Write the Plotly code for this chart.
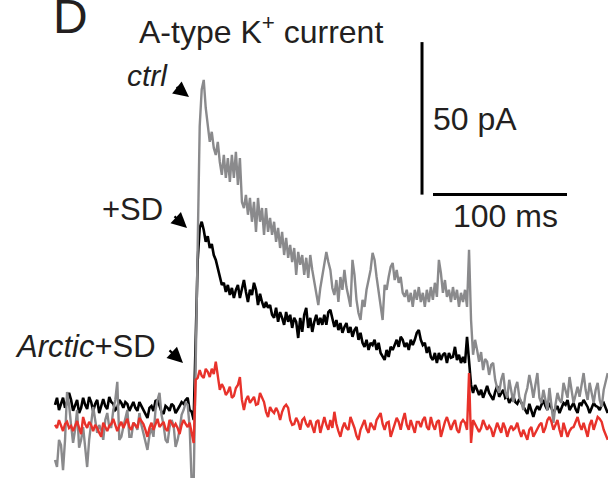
import plotly.graph_objects as go

# ---------------- data ----------------
SAMPLE_MS = 1.5
ctrl_pA = [
    -11.5, -13.8, -4.9, -6.6, -14.8, -4.9, 10.8, 6.6, 0, -5.9,
    -1.6, 4.9, -7.5, -4.9, -0.7, -6.6, -13.8, -4.9, 0, 5.9,
    1.6, -2.6, 0, -1.6, -4.9, 1.6, 3.9, -0.7, -0.7, 4.9,
    8.2, 14.1, -4.9, -3.9, -0.7, 2.3, 4.9, -3.9, -3.9, 0.7,
    0, -1.6, 3.9, 0, -2.6, -4.9, -8.2, -3.3, -1.0, -3.9,
    4.9, 8.2, 10.5, 3.3, 0, -4.9, -5.9, -0.7, 1.6, 0,
    -7.2, -4.9, -1.6, 3.3, 4.9, 7.2, 6.6, -0.7, -19, -19,
    20, 70, 98, 110, 113.1, 103.9, 98.4, 92.8, 96.1, 90.8,
    88.5, 92.8, 86.2, 82.0, 88.5, 81.0, 87.5, 79.7, 88.5, 81.0,
    89.5, 78.7, 87.5, 73.1, 71.1, 75.4, 68.9, 74.4, 66.6, 73.1,
    63.3, 74.4, 66.6, 71.1, 62.3, 71.1, 63.3, 67.9, 62.3, 66.6,
    60.0, 64.6, 58.0, 63.3, 55.7, 61.3, 54.8, 59.0, 53.4, 58.0,
    49.2, 56.7, 52.5, 55.7, 49.2, 54.8, 48.2, 55.7, 50.8, 46.9,
    43.6, 39.3, 44.9, 49.2, 53.4, 56.7, 53.4, 50.8, 44.9, 42.6,
    47.5, 40.3, 48.5, 44.3, 50.8, 45.2, 42.0, 38.7, 54.1, 49.2,
    41.0, 36.7, 34.4, 41.0, 38.7, 44.3, 47.5, 50.8, 56.4, 54.1,
    48.5, 43.3, 38.7, 34.4, 45.9, 44.3, 48.5, 51.8, 53.1, 47.5,
    50.8, 46.6, 48.5, 43.3, 42.0, 44.3, 40.3, 43.3, 38.7, 44.3,
    41.0, 45.2, 40.3, 43.3, 38.7, 44.3, 40.3, 45.2, 41.0, 46.6,
    42.0, 54.1, 49.8, 43.3, 47.5, 42.0, 44.3, 40.3, 45.2, 41.0,
    44.3, 38.7, 43.3, 40.3, 44.3, 38.7, 57.4, 34.4, 23.0, 27.9,
    24.6, 20.7, 23.9, 18.0, 21.6, 20.7, 16.4, 19.7, 20.3, 14.8,
    12.1, 10.5, 14.8, 17.0, 10.8, 8.9, 14.8, 11.5, 7.5, 12.1,
    14.1, 9.2, 7.5, 4.9, 9.8, 12.1, 16.4, 13.1, 8.9, 13.1,
    17.0, 8.9, 7.2, 11.5, 8.2, 4.9, 12.1, 6.6, 0.7, 6.6,
    10.5, 8.2, 7.2, 13.8, 10.8, 8.9, 15.7, 10.8, 7.2, 9.8,
    12.5, 9.2, 13.1, 17.0, 11.5, 8.2, 13.8, 10.5, 7.2, 11.5,
    13.8, 8.2, 5.9, 11.5, 14.8, 17.0,
]
sd_pA = [
    6.6, 8.9, 4.9, 7.2, 8.9, 5.6, 7.5, 10.5, 8.2, 4.6,
    6.6, 8.2, 3.9, 5.6, 8.9, 6.6, 5.2, 9.2, 7.5, 4.6,
    6.9, 8.2, 3.9, 6.6, 8.5, 6.2, 5.2, 9.2, 7.5, 6.9,
    4.9, 5.6, 8.2, 7.2, 5.6, 7.5, 6.9, 4.6, 5.9, 7.5,
    5.6, 4.6, 7.5, 6.2, 4.6, 3.6, 2.3, 5.6, 6.2, 4.6,
    7.9, 8.2, 5.9, 4.3, 3.6, 6.2, 5.6, 4.6, 6.9, 6.2,
    3.9, 4.9, 6.2, 7.5, 6.9, 8.2, 8.9, 4.9, 4.3, 1.6,
    31.1, 54.1, 64.6, 66.6, 63.9, 60.0, 61.9, 58.0, 59.3, 55.7,
    54.1, 51.5, 48.9, 45.9, 46.6, 43.6, 45.9, 42.6, 44.9, 41.6,
    44.3, 45.9, 41.6, 44.9, 47.5, 43.6, 40.3, 44.3, 42.6, 46.6,
    44.3, 39.3, 43.0, 40.3, 38.4, 40.3, 38.4, 39.3, 36.1, 35.1,
    38.4, 33.8, 37.0, 35.1, 32.8, 37.0, 33.8, 36.1, 31.8, 35.1,
    33.8, 28.5, 35.1, 30.5, 36.1, 38.4, 31.8, 35.1, 30.5, 33.8,
    36.1, 32.8, 35.1, 32.8, 36.1, 32.8, 37.0, 37.7, 34.4, 32.1,
    34.4, 31.1, 33.4, 30.2, 32.1, 33.4, 30.2, 32.1, 28.9, 31.1,
    32.1, 27.9, 30.2, 26.9, 25.6, 27.9, 24.6, 26.9, 26.2, 27.9,
    24.6, 26.9, 23.6, 22.3, 21.3, 24.6, 22.3, 25.6, 24.6, 26.2,
    27.9, 25.6, 28.9, 27.9, 25.6, 26.9, 24.6, 27.9, 26.2, 27.9,
    30.2, 31.1, 27.9, 26.2, 26.9, 23.6, 25.6, 22.3, 21.3, 23.6,
    20.3, 23.6, 21.3, 23.0, 23.6, 20.3, 23.6, 22.0, 22.3, 25.6,
    21.3, 23.0, 20.3, 22.3, 20.3, 28.9, 19.7, 13.1, 10.5, 13.1,
    11.5, 9.8, 11.5, 8.9, 10.8, 12.8, 10.5, 9.5, 8.2, 10.8,
    12.8, 9.2, 10.2, 11.5, 8.9, 9.5, 7.2, 8.2, 9.5, 7.5,
    6.9, 8.5, 7.2, 5.9, 4.9, 3.6, 6.9, 4.9, 2.6, 4.9,
    6.2, 4.9, 6.6, 8.2, 6.2, 4.9, 7.2, 5.6, 3.9, 5.2,
    6.2, 3.9, 5.6, 7.2, 6.6, 8.2, 4.9, 6.2, 7.2, 5.2,
    3.9, 7.2, 6.6, 8.2, 6.9, 5.9, 3.9, 5.6, 7.2, 6.2,
    5.9, 4.9, 6.6, 7.2, 5.6, 3.9,
]
arctic_sd_pA = [
    0, -1.0, 1.6, 0, -2.0, 0.3, 1.0, -1.0, -0.3, -2.0,
    -0.3, 1.3, -1.0, -3.0, 2.6, 0.3, -1.0, 1.0, 0, -2.0,
    0, -1.0, -2.6, -3.9, 0.7, -0.7, -2.0, -0.3, 0.3, 2.0,
    0, -2.0, -0.3, 1.0, -1.0, 0.3, 2.0, -0.7, -1.6, 0.7,
    -0.3, -1.0, 2.3, 1.3, 0.3, -1.6, -3.9, -1.0, 0.7, -1.6,
    0.3, 2.0, -0.7, 0.3, 1.0, -1.3, -2.0, 1.6, 0.7, -0.7,
    0.3, -1.0, -3.0, 0, 1.6, 0.3, -0.7, 0.7, -2.3, -5.9,
    14.8, 15.4, 18.0, 16.1, 15.4, 18.4, 17.4, 15.7, 18.4, 16.7,
    20.7, 15.4, 11.5, 13.4, 12.1, 9.8, 10.8, 12.5, 8.9, 9.5,
    12.1, 13.1, 15.7, 8.2, 4.9, 8.2, 9.5, 7.2, 8.2, 9.2,
    6.6, 6.9, 10.5, 8.9, 7.5, 4.3, 2.6, 5.9, 4.6, 3.9,
    5.6, 4.3, 1.6, 4.3, 5.9, 6.6, 5.6, 1.6, 0, 0.3,
    2.3, 1.0, -1.6, 1.6, 2.3, 0.3, -0.7, 1.6, -1.0, -2.6,
    1.0, 1.6, -2.6, 0.3, 2.6, 0, -1.6, 1.6, -1.0, 4.3,
    0.3, -2.0, -3.9, -1.0, 0.7, -1.0, -1.6, 2.6, 1.0, -1.0,
    -3.6, -4.9, -1.6, 0.3, 1.6, -1.3, -2.6, 0.7, -0.7, -1.6,
    1.6, 2.6, 3.9, 0.3, -1.6, 0.7, 1.0, -3.9, -2.0, 0,
    2.3, 1.0, -1.6, 1.6, 3.9, 0, -1.6, 1.6, -1.0, -2.6,
    1.0, 1.0, -0.7, 1.6, 2.6, -0.7, -1.6, 2.6, 0, -1.6,
    1.0, 1.6, -3.9, -1.0, 1.0, 2.6, 0.7, -1.6, 0.3, 1.6,
    -1.6, -2.6, 0.7, 1.6, 0.7, -1.6, 17.0, -5.9, 1.6, 0.3,
    -0.7, -2.3, -1.0, 1.6, 0, -1.6, -0.3, -1.3, -3.9, -1.6,
    0.7, -1.0, -2.6, 0.7, -1.0, -3.9, -1.6, -0.3, -1.6, -1.0,
    0.7, -2.0, -3.9, -1.6, -3.0, -4.9, -1.6, -0.7, -3.9, -2.6,
    -1.6, 0, 0.7, -2.6, -1.0, 1.6, 2.6, 1.0, -1.6, 0,
    1.6, -1.6, -3.9, 0.7, -1.6, -3.9, -2.0, -1.0, -0.7, 1.0,
    2.6, 0, -1.6, 0.7, -1.6, -3.9, 0, 1.6, -1.6, 0.3,
    2.6, 2.0, 1.0, -1.6, -3.3, -4.9,
]
time_ms = [SAMPLE_MS * i for i in range(len(ctrl_pA))]

SCALE_PA = 50
SCALE_MS = 100
labels = {"ctrl": "<i>ctrl</i>", "sd": "+SD", "arctic": "<i>Arctic</i>+SD"}

# ---------------- figure ----------------
W, H = 608, 478
FONT = "Liberation Sans, Arial, Helvetica, sans-serif"
TXT = "#231f20"

fig = go.Figure()
fig.add_trace(go.Scatter(x=time_ms, y=sd_pA, mode="lines",
                         line=dict(color="#000000", width=2.6), hoverinfo="skip"))
fig.add_trace(go.Scatter(x=time_ms, y=ctrl_pA, mode="lines",
                         line=dict(color="#8a8a8c", width=2.4), hoverinfo="skip"))
fig.add_trace(go.Scatter(x=time_ms, y=arctic_sd_pA, mode="lines",
                         line=dict(color="#e8322b", width=2.4), hoverinfo="skip"))

X0, X1 = -41.04, 412.7
Y0, Y1 = -17.4, 139.3

def px(xp):
    return xp / W

def py(yp):
    return 1 - yp / H

# scale bars (data coordinates)
bar_t = 273.9
bar_y0 = 75.5
fig.add_shape(type="line", xref="x", yref="y", x0=bar_t, x1=bar_t,
              y0=bar_y0, y1=bar_y0 + SCALE_PA, line=dict(color="black", width=3))
fig.add_shape(type="line", xref="x", yref="y", x0=282.1, x1=282.1 + SCALE_MS,
              y0=bar_y0, y1=bar_y0, line=dict(color="black", width=3))

def text(t, xp, yp, size, anchor="left"):
    fig.add_annotation(text=t, xref="paper", yref="paper", x=px(xp), y=py(yp),
                       xanchor=anchor, yanchor="middle", showarrow=False,
                       font=dict(family=FONT, size=size, color=TXT))

def arrow(x_tail, y_tail, x_head, y_head):
    fig.add_annotation(text="", xref="paper", yref="paper", x=px(x_head), y=py(y_head),
                       ax=x_tail - x_head, ay=y_tail - y_head, axref="pixel", ayref="pixel",
                       showarrow=True, arrowhead=2, arrowsize=1.4, arrowwidth=2.2,
                       arrowcolor="black", standoff=0, startstandoff=0)

text("D", 51, 17, 48)
text("A-type K<sup>+</sup> current", 137, 30, 32)
text(labels["ctrl"], 125, 76, 30)
text(labels["sd"], 100, 209, 31)
text(labels["arctic"], 13, 346, 31)
text(f"{SCALE_PA} pA", 431, 119, 32)
text(f"{SCALE_MS} ms", 451, 216, 32)

arrow(175, 86, 189, 97)
arrow(173, 215, 187, 228)
arrow(168, 349, 183, 363)

fig.update_layout(
    width=W, height=H, margin=dict(l=0, r=0, t=0, b=0),
    paper_bgcolor="white", plot_bgcolor="white", showlegend=False,
    xaxis=dict(range=[X0, X1], visible=False, fixedrange=True),
    yaxis=dict(range=[Y0, Y1], visible=False, fixedrange=True),
)
fig.write_html("out.html", config={"displayModeBar": False},
               post_script="document.body.style.margin='0';")
